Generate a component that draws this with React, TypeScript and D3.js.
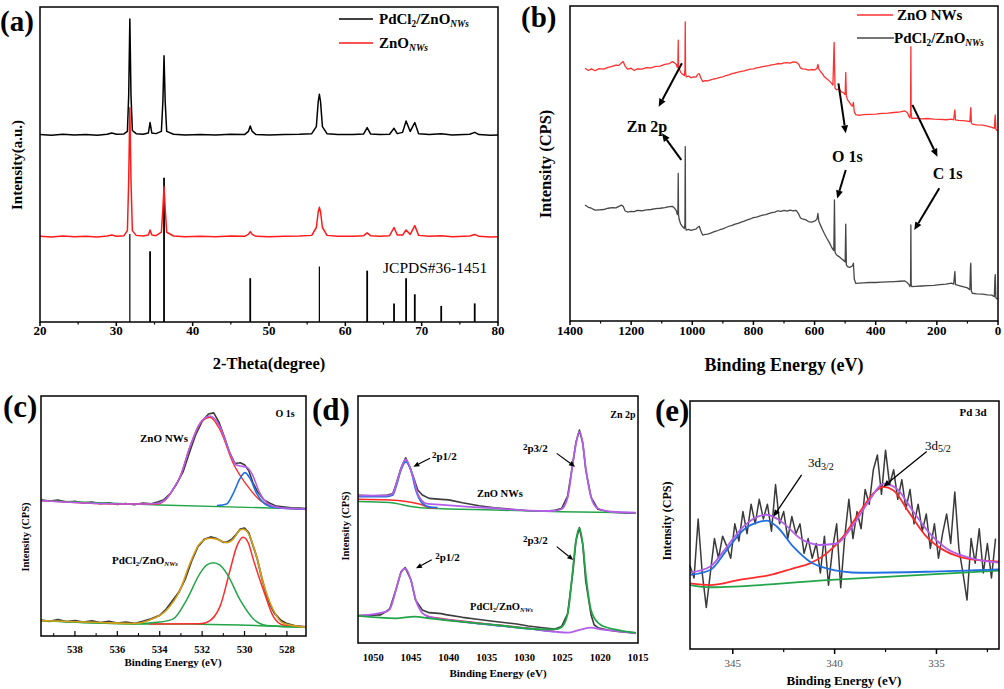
import React from 'react';
import * as d3 from 'd3';

type P = [number, number];
const FONT = "'Liberation Serif','Times New Roman',Times,serif";

// ---------- (a) XRD ----------
const xrdTicks = [20, 30, 40, 50, 60, 70, 80];
const xrdMinor = [25, 35, 45, 55, 65, 75];
const xrdPdCl2: P[] = [[20,59.5],[21.5,59.3],[23,59.6],[24.5,59.4],[26,59.5],[27.5,59.3],[28.8,59.6],[29.4,60.0],[30,59.6],[31,59.7],[31.45,60.5],[31.62,72],[31.77,96.2],[31.92,72],[32.1,60.8],[32.6,59.8],[33.5,59.6],[34.2,60],[34.42,63.3],[34.65,60],[35.2,59.8],[35.9,60.5],[36.1,70],[36.25,84.5],[36.4,70],[36.6,60.5],[37.5,59.6],[39,59.4],[41,59.5],[43,59.4],[45,59.6],[46.8,59.5],[47.3,60.5],[47.54,62.2],[47.8,60.5],[48.3,59.5],[50,59.4],[52,59.5],[54,59.6],[55.6,59.8],[56.2,62],[56.45,70],[56.6,72.3],[56.75,70],[57,62],[57.6,59.8],[59,59.5],[61,59.5],[62.4,59.7],[62.86,61.7],[63.3,59.7],[64.5,59.5],[65.8,59.6],[66.38,61.5],[66.8,59.8],[67.5,60.2],[67.96,63.8],[68.5,60.5],[69.1,63.3],[69.6,59.8],[71,59.5],[72.56,59.8],[74,59.4],[76.3,59.6],[76.95,60.2],[77.5,59.5],[79,59.3],[80,59.4]];
const xrdZnO: P[] = [[20,27.2],[21.5,27.0],[23,27.3],[24.5,27.1],[26,27.2],[27.5,27.0],[28.8,27.3],[29.4,27.6],[30,27.2],[31,27.4],[31.45,29],[31.62,45],[31.77,68],[31.92,45],[32.1,29],[32.6,27.5],[33.5,27.3],[34.2,27.6],[34.42,29.2],[34.65,27.6],[35.2,27.4],[35.9,28.5],[36.1,36],[36.25,43.0],[36.4,36],[36.6,28.5],[37.5,27.3],[39,27.1],[41,27.2],[43,27.1],[45,27.3],[46.8,27.2],[47.3,27.8],[47.54,28.7],[47.8,27.8],[48.3,27.2],[50,27.1],[52,27.2],[54,27.3],[55.6,27.5],[56.2,30],[56.45,35],[56.6,36.4],[56.75,35],[57,30],[57.6,27.5],[59,27.2],[61,27.2],[62.4,27.4],[62.86,28.3],[63.3,27.4],[64.5,27.2],[65.8,27.4],[66.38,30.0],[66.8,27.6],[67.5,27.6],[67.96,29.2],[68.5,27.8],[69.1,30.6],[69.6,27.5],[71,27.2],[72.56,27.4],[74,27.1],[76.3,27.3],[76.95,27.8],[77.5,27.2],[79,27.0],[80,27.1]];
const jcpdsPos = [31.77, 34.42, 36.25, 47.54, 56.6, 62.86, 66.38, 67.96, 69.1, 72.56, 76.95];
const jcpdsInt = [27.9, 22.5, 45.8, 13.9, 17.6, 16.3, 5.9, 13.9, 8.8, 5.1, 5.9];

// ---------- (b) XPS survey ----------
const surveyTicks = [1400, 1200, 1000, 800, 600, 400, 200, 0];
const surveyMinor = [1300, 1100, 900, 700, 500, 300, 100];
const surveyZnO: P[] = [[1351,80.3],[1340,79.6],[1330,80.1],[1318,79.5],[1305,80.2],[1290,80.0],[1275,80.6],[1262,80.9],[1250,81.3],[1240,81.2],[1232,82.0],[1226,82.4],[1220,81.0],[1212,80.0],[1200,80.3],[1190,79.6],[1180,80.1],[1165,80.0],[1150,80.5],[1135,80.4],[1120,80.9],[1105,81.0],[1090,81.5],[1075,81.8],[1065,82.4],[1058,82.0],[1052,81.5],[1049,80.5],[1047,82],[1046,89.2],[1045,81],[1043,80.2],[1038,79.0],[1032,78.4],[1026,78.0],[1024,80],[1023,95.0],[1022,79],[1020,77.6],[1012,77.8],[1004,77.3],[996,77.6],[988,77.5],[982,78.4],[977,78.6],[972,77.2],[966,76.1],[958,76.4],[950,76.3],[940,76.6],[930,76.9],[920,77.1],[910,77.4],[900,77.6],[890,78.0],[880,78.2],[870,78.6],[860,78.8],[850,79.1],[840,79.3],[830,79.5],[820,79.8],[810,80.0],[800,80.1],[790,80.4],[780,80.6],[770,80.8],[760,81.0],[750,81.1],[740,81.4],[730,81.5],[720,81.8],[710,81.7],[700,82.0],[690,82.1],[680,81.9],[670,82.3],[660,82.2],[652,81.6],[646,80.4],[640,80.1],[630,80.0],[620,79.7],[610,79.9],[598,79.8],[592,80.3],[589,81.5],[586,80.0],[580,79.2],[574,78.5],[568,77.6],[560,77.0],[552,76.3],[545,75.6],[540,75.0],[536,88.5],[533,74.0],[528,73.5],[520,73.8],[512,72.8],[505,72.5],[500,72.0],[498,79.0],[496,71.5],[492,70.3],[486,69.5],[480,68.6],[476,68.3],[473,69.5],[470,66.5],[465,65.6],[455,65.4],[440,65.6],[420,65.7],[400,65.8],[380,66.0],[360,66.1],[340,66.3],[320,66.5],[305,66.8],[296,66.2],[291,65.0],[288,64.6],[286,66],[285,87.1],[284,66],[282,64.4],[270,64.5],[250,64.3],[230,64.4],[210,64.2],[190,64.1],[170,64.0],[152,64.2],[145,64.0],[142,66.5],[141,67.1],[139,64.0],[130,63.8],[115,63.7],[100,63.6],[92,63.4],[90,66.5],[89,67.8],[87,63.0],[84,62.6],[70,62.4],[50,62.3],[35,62.0],[20,61.6],[12,61.3],[10,64.5],[9,65.5],[7,61.0],[4,60.7],[1,60.5]];
const surveyPdCl2: P[] = [[1351,37.0],[1340,36.3],[1330,36.0],[1318,35.4],[1305,35.5],[1290,35.6],[1275,36.0],[1262,36.2],[1250,36.1],[1240,36.6],[1232,37.0],[1226,36.6],[1220,35.2],[1212,34.8],[1200,35.0],[1190,34.9],[1180,35.3],[1165,35.2],[1150,35.5],[1135,35.6],[1120,35.9],[1105,36.0],[1090,36.2],[1075,36.5],[1065,36.6],[1058,36.0],[1052,35.2],[1049,34.0],[1047,35],[1046,47.0],[1045,34],[1043,32.5],[1038,31.0],[1032,30.2],[1026,29.6],[1024,31],[1023,55.5],[1022,30],[1020,29.1],[1012,29.3],[1004,29.0],[996,29.2],[988,29.4],[982,30.0],[977,30.3],[972,28.8],[966,27.5],[958,27.7],[950,27.8],[940,28.1],[930,28.5],[920,28.8],[910,29.2],[900,29.5],[890,29.9],[880,30.3],[870,30.6],[860,31.0],[850,31.2],[840,31.6],[830,31.9],[820,32.3],[810,32.6],[800,33.0],[790,33.2],[780,33.5],[770,33.8],[760,34.0],[750,34.3],[740,34.6],[730,34.8],[720,35.2],[710,35.0],[700,35.3],[690,35.1],[680,35.4],[670,35.2],[660,35.3],[652,34.2],[646,32.9],[640,32.6],[630,32.4],[620,31.8],[610,31.6],[598,32.0],[592,32.6],[589,34.4],[586,31.8],[580,30.5],[574,29.2],[568,28.0],[560,26.5],[552,25.2],[545,23.8],[540,23.0],[537,22.6],[535,38.6],[533,22.0],[528,21.2],[520,20.7],[512,20.0],[505,19.5],[500,19.0],[498,31.0],[496,18.0],[492,17.5],[486,17.3],[480,17.5],[476,17.8],[473,18.6],[470,13.5],[465,12.2],[455,12.3],[440,12.4],[420,12.5],[400,12.5],[380,12.6],[360,12.7],[340,12.8],[320,12.9],[305,13.0],[296,12.4],[291,11.8],[288,11.2],[286,12],[285,30.7],[284,12],[282,11.2],[270,11.3],[250,11.4],[230,11.5],[210,11.6],[190,11.8],[170,12.0],[152,12.3],[145,12.0],[142,15.0],[141,16.0],[139,11.8],[130,11.6],[115,11.2],[100,10.8],[92,10.2],[90,17.5],[89,18.6],[87,9.8],[84,9.1],[70,8.9],[50,8.8],[35,8.6],[20,8.5],[12,8.0],[10,14.0],[9,15.0],[7,7.6],[4,7.4],[1,7.2]];

// ---------- (c) O 1s ----------
const o1sTicks = [538, 536, 534, 532, 530, 528];
const o1sMinor = [539, 537, 535, 533, 531, 529];
const o1sZnORaw: P[] = [[539.6,56.9],[539.2,56.4],[538.8,56.8],[538.4,56.0],[538.0,56.3],[537.6,55.6],[537.2,56.0],[536.8,55.3],[536.4,55.7],[536.0,55.0],[535.6,55.4],[535.2,54.9],[534.8,55.6],[534.4,55.3],[534.1,56.0],[533.8,57.0],[533.5,59.5],[533.2,63.5],[532.9,68.5],[532.6,76.5],[532.3,84.0],[532.0,89.5],[531.7,92.5],[531.45,93.0],[531.2,89.0],[530.95,83.0],[530.7,76.5],[530.45,72.0],[530.2,72.3],[530.0,71.5],[529.8,69.0],[529.6,64.0],[529.4,60.5],[529.1,57.0],[528.8,55.5],[528.5,54.3],[528.2,54.0],[527.8,53.6],[527.4,53.5],[527.1,53.3]];
const o1sZnOEnv: P[] = [[539.6,56.6],[538.5,56.0],[537.5,55.6],[536.8,55.4],[535.5,55.2],[534.6,55.2],[534.14,55.4],[533.67,57.5],[533.36,61.5],[533.04,66.5],[532.57,79.0],[532.1,88.7],[531.63,91.7],[531.16,87.3],[530.68,76.2],[530.4,71.5],[530.1,70.8],[529.9,70.4],[529.66,67.9],[529.27,59.6],[528.8,54.8],[528.17,53.4],[527.1,53.1]];
const o1sZnOPeakA: P[] = [[539.6,56.6],[536,55.2],[534.14,55.2],[533.67,57.5],[533.36,61.5],[533.04,66.5],[532.57,79.0],[532.1,88.5],[531.63,91.2],[531.16,86.0],[530.53,72.0],[529.9,63.1],[529.27,56.8],[528.64,54.1],[528.17,53.5],[527.1,53.1]];
const o1sZnOPeakB: P[] = [[531.3,54.5],[530.84,55.2],[530.53,59.6],[530.21,65.8],[529.98,68.2],[529.74,65.8],[529.43,59.6],[528.96,54.8],[528.5,53.7],[527.1,53.1]];
const o1sZnOBg: P[] = [[539.6,56.6],[534,54.8],[527.1,53.1]];
const o1sPdRaw: P[] = [[539.6,7.0],[539.2,6.5],[538.8,7.2],[538.4,6.4],[538.0,6.8],[537.6,6.2],[537.2,6.7],[536.8,6.0],[536.4,6.5],[536.0,5.8],[535.6,6.2],[535.2,5.6],[534.8,6.5],[534.4,7.5],[534.0,9.0],[533.7,11.5],[533.4,15.0],[533.1,18.5],[532.8,24.0],[532.5,31.5],[532.2,37.5],[531.9,40.5],[531.6,41.5],[531.3,40.8],[531.0,39.3],[530.8,39.5],[530.6,40.5],[530.4,42.5],[530.2,44.8],[530.0,45.2],[529.8,43.2],[529.6,38.0],[529.4,32.5],[529.2,25.0],[529.0,18.5],[528.8,13.5],[528.6,10.0],[528.3,7.0],[528.0,5.5],[527.6,4.6],[527.1,4.2]];
const o1sPdEnv: P[] = [[539.6,6.8],[536.82,6.0],[535.25,5.6],[534.46,7.1],[533.67,11.2],[533.04,19.5],[532.57,30.6],[532.1,38.9],[531.63,41.0],[531.31,40.6],[530.84,39.1],[530.53,40.6],[530.21,44.4],[530.06,44.7],[529.82,43.0],[529.43,33.3],[529.11,22.3],[528.64,11.2],[528.17,5.7],[527.1,4.0]];
const o1sPdPeakA: P[] = [[539.6,6.8],[535.25,5.5],[533.99,6.2],[533.36,7.5],[532.73,15.4],[532.1,26.4],[531.79,29.8],[531.47,30.8],[531.16,29.8],[530.84,26.4],[530.21,15.4],[529.58,7.5],[528.96,4.8],[527.1,4.0]];
const o1sPdPeakB: P[] = [[534.5,5.4],[532.1,5.5],[531.79,6.0],[531.16,12.6],[530.68,27.8],[530.37,37.5],[530.06,41.4],[529.82,39.0],[529.58,32.0],[529.11,19.5],[528.64,8.5],[528.17,5.0],[527.1,4.2]];
const o1sPdBg: P[] = [[539.6,6.8],[535.3,5.4],[532.1,5.3],[527.1,4.0]];

// ---------- (d) Zn 2p ----------
const zn2pTicks = [1050, 1045, 1040, 1035, 1030, 1025, 1020, 1015];
const zn2pZnORaw: P[] = [[1052,59.8],[1050,59.6],[1048.3,59.8],[1047.4,60.6],[1047,64],[1046.3,71],[1045.7,75],[1045,70],[1044.6,66.5],[1044.1,62],[1043.5,60],[1042.6,58.6],[1041,58.2],[1040,58],[1038.2,56.8],[1036,55.6],[1034,54.8],[1031,54.0],[1029.5,53.6],[1027.3,53.4],[1026,53.8],[1025.1,54.5],[1024.3,59.5],[1023.6,73],[1023.2,81.3],[1022.74,86.2],[1022.3,81],[1021.9,70],[1021.2,59],[1020.3,54.2],[1018.6,53],[1016,52.6],[1015.3,52.7]];
const zn2pZnOEnv: P[] = [[1052,59.7],[1048.29,59.7],[1047.4,60.5],[1046.98,64.0],[1046.32,70.5],[1045.7,74.4],[1045.01,70.0],[1044.6,66.0],[1044.14,60.7],[1043.5,57.5],[1043.05,56.6],[1040.43,55.9],[1033.88,54.6],[1027.33,53.5],[1026,53.6],[1025.14,54.2],[1024.27,59.3],[1023.62,72.8],[1023.18,80.9],[1022.74,85.6],[1022.31,80.9],[1021.87,70.1],[1021.21,59.3],[1020.34,54.6],[1018.59,53.2],[1015.3,52.8]];
const zn2pZnOP12: P[] = [[1052,59.3],[1048.29,59.3],[1047.4,60.0],[1046.98,63.3],[1046.32,70.1],[1045.7,73.4],[1045.01,70.1],[1044.36,62.0],[1043.48,56.6],[1042.61,55.2],[1041.5,54.9]];
const zn2pZnOSat: P[] = [[1052,58.2],[1047.85,57.9],[1045.67,57.3],[1043.48,55.9],[1042.61,54.9],[1041.5,54.6]];
const zn2pZnOBg: P[] = [[1052,57.3],[1047.85,56.9],[1044.79,55.2],[1042.61,54.6],[1033.88,53.9],[1025.14,53.2],[1015.3,52.8]];
const zn2pPdRaw: P[] = [[1052,11.2],[1049,11.5],[1048.3,12.8],[1047.8,14],[1047,21.6],[1046.3,29],[1045.76,30.6],[1045,25.6],[1044.4,17.5],[1043.5,13.5],[1042.6,12.4],[1041,12],[1040.4,11.6],[1038.2,10.5],[1036,9.6],[1033.9,8.8],[1031,7.8],[1029.5,7.0],[1027.3,6.2],[1026,5.8],[1025.1,6.8],[1024.3,12],[1023.6,29],[1023.2,41.5],[1022.74,46.8],[1022.3,40],[1021.9,25],[1021.2,11.5],[1020.8,7.5],[1020.3,6.3],[1019,5.4],[1017.7,4.8],[1015.3,4.2]];
const zn2pPdEnv: P[] = [[1052,11.1],[1048.29,12.8],[1047.8,13.8],[1046.98,21.6],[1046.32,28.5],[1045.76,30.3],[1045.01,25.6],[1044.36,17.5],[1043.48,12.2],[1042.61,10.8],[1038.24,8.8],[1033.88,7.4],[1029.51,6.0],[1026.02,4.7],[1024.27,4.3],[1022.74,5.4],[1021.21,6.3],[1019.9,5.6],[1018,5.0],[1015.3,4.0]];
const zn2pPdSat1: P[] = [[1043,10.9],[1038,8.9],[1033.9,7.5],[1029.5,6.1],[1026,4.8]];
const zn2pPdSat2: P[] = [[1043,10.6],[1038,8.6],[1033.9,7.2],[1029.5,5.9],[1026,4.6]];
const zn2pPdP32: P[] = [[1052,11.1],[1047,10.1],[1044.5,10.8],[1042.6,10.1],[1033.88,7.4],[1027.3,5.6],[1026,5.6],[1025.1,6.5],[1024.27,12.2],[1023.62,29.6],[1023.18,41.8],[1022.74,46.5],[1022.31,40.4],[1021.87,27.0],[1021.21,13.5],[1020.34,8.5],[1019.9,7.4],[1017.72,5.4],[1015.3,4.2]];

// ---------- (e) Pd 3d ----------
const pd3dTicks = [345, 340, 335];
const pd3dMinor = [342.5, 337.5, 332.5];
const pd3dStart = 347.1;
const pd3dStep = 0.2;
const pd3dRaw = [33,28,52,30,16,30,44,36,45,41,36,50,43,55,46,58,50,60,52,58,47,66,50,55,44,53,46,50,38,44,36,42,30,45,25,40,50,24,45,60,44,55,48,64,58,72,78,62,80,66,72,60,68,56,64,50,58,47,54,40,50,36,46,54,42,63,40,30,19,44,34,48,30,42,28,44];
const pd3dEnv: P[] = [[347.09,30.1],[346.11,32.6],[345.29,40.7],[344.48,48.9],[343.33,53.7],[342.52,50.3],[341.70,44.1],[340.72,41.4],[339.90,42.0],[339.08,49.6],[338.27,59.8],[337.61,66.4],[336.96,64.4],[336.14,55.0],[335.33,46.1],[334.51,40.0],[333.53,36.6],[331.93,34.2]];
const pd3d52: P[] = [[347.09,25.8],[346.11,25.1],[344.8,27.0],[343.0,29.5],[342.03,31.9],[341.21,33.9],[340.39,38.0],[339.58,44.8],[338.76,54.9],[338.10,62.4],[337.61,65.1],[337.12,63.7],[336.31,54.2],[335.49,44.8],[334.67,39.4],[333.86,36.6],[333.04,35.3],[331.93,34.6]];
const pd3d32: P[] = [[347.09,29.2],[346.11,31.2],[345.29,39.4],[344.48,47.5],[343.66,50.9],[343.33,51.3],[342.84,48.9],[342.03,40.7],[341.21,34.6],[340.39,31.9],[338.76,30.1],[335.49,30.5],[331.93,31.5]];
const pd3dBg: P[] = [[347.09,25.1],[346.11,24.2],[340.39,27.1],[331.93,31.0]];

// ---------- colours ----------
const C_RAW = '#3c3c3c';
const C_PUR = '#b35ee8';
const C_RED = '#ff2b2b';
const C_BLU = '#1f6fe0';
const C_GRN = '#22a548';
const C_YEL = '#d6a11a';

function mkLine(sx: any, sy: any, curve: any = d3.curveLinear) {
  return d3.line<P>().x(d => sx(d[0])).y(d => sy(d[1])).curve(curve);
}

function Arrow({ x1, y1, x2, y2, head = 8, hw = 3.5, w = 1.6 }: any) {
  const a = Math.atan2(y2 - y1, x2 - x1);
  const bx = x2 - head * Math.cos(a), by = y2 - head * Math.sin(a);
  const px = -Math.sin(a) * hw, py = Math.cos(a) * hw;
  return (
    <g>
      <line x1={x1} y1={y1} x2={bx} y2={by} stroke="#000" strokeWidth={w} />
      <polygon points={`${x2},${y2} ${bx + px},${by + py} ${bx - px},${by - py}`} fill="#000" />
    </g>
  );
}

function PdLabel({ x, y, size, anchor = 'start' }: any) {
  const s = size * 0.62;
  return (
    <text x={x} y={y} fontSize={size} fontWeight="bold" textAnchor={anchor}>
      PdCl<tspan fontSize={s} dy={size * 0.22}>2</tspan>
      <tspan dy={-size * 0.22}>/ZnO</tspan>
      <tspan fontSize={s} fontStyle="italic" dy={size * 0.22}>NWs</tspan>
    </text>
  );
}

export default function App() {
  // ---- (a)
  const ax = d3.scaleLinear().domain([20, 80]).range([40, 498]);
  const ay = d3.scaleLinear().domain([0, 100]).range([322, 7]);
  const aLine = mkLine(ax, ay);
  // ---- (b)
  const bx = d3.scaleLinear().domain([1400, 0]).range([570, 998]);
  const by = d3.scaleLinear().domain([0, 100]).range([322, 6]);
  const bLine = mkLine(bx, by);
  // ---- (c)
  const cx = d3.scaleLinear().domain([539.6, 527.1]).range([41, 306]);
  const cy = d3.scaleLinear().domain([0, 100]).range([637, 396]);
  const cLine = mkLine(cx, cy);
  const cFit = mkLine(cx, cy, d3.curveMonotoneX);
  // ---- (d)
  const dx = d3.scaleLinear().domain([1052, 1015]).range([358, 638]);
  const dy = d3.scaleLinear().domain([0, 100]).range([643.3, 396]);
  const dLine = mkLine(dx, dy);
  const dFit = mkLine(dx, dy, d3.curveMonotoneX);
  // ---- (e)
  const ex = d3.scaleLinear().domain([347.1, 331.93]).range([690, 999]);
  const ey = d3.scaleLinear().domain([0, 100]).range([646.7, 401]);
  const eLine = mkLine(ex, ey);
  const eFit = mkLine(ex, ey, d3.curveMonotoneX);
  const pdRawPts: P[] = pd3dRaw.map((v, i) => [pd3dStart - i * pd3dStep, v]);

  const fit = (d: string | null, c: string, w = 1.6) => <path d={d || ''} fill="none" stroke={c} strokeWidth={w} strokeLinejoin="round" />;

  return (
    <svg width={1004} height={689} style={{ position: 'absolute', left: 0, top: 0, background: '#fff' }} fontFamily={FONT}>
      <rect x={0} y={0} width={1004} height={689} fill="#fff" />

      {/* ================= (a) ================= */}
      <g>
        {jcpdsPos.map((p, i) => (
          <line key={i} x1={ax(p)} x2={ax(p)} y1={ay(0)} y2={ay(jcpdsInt[i])} stroke="#000" strokeWidth={i === 0 || i === 4 ? 1.2 : 1.8} />
        ))}
        {fit(aLine(xrdPdCl2), '#000', 1.5)}
        {fit(aLine(xrdZnO), '#ff1a1a', 1.5)}
        <rect x={40} y={7} width={458} height={315} fill="none" stroke="#000" strokeWidth={1.5} />
        {xrdTicks.map(t => <line key={t} x1={ax(t)} x2={ax(t)} y1={322} y2={326} stroke="#000" strokeWidth={1.5} />)}
        {xrdMinor.map(t => <line key={t} x1={ax(t)} x2={ax(t)} y1={322} y2={324.5} stroke="#000" strokeWidth={1.2} />)}
        {xrdTicks.map(t => <text key={t} x={ax(t)} y={335} fontSize={13} fontWeight="bold" textAnchor="middle">{t}</text>)}
        <text x={269} y={369} fontSize={16.5} fontWeight="bold" textAnchor="middle">2-Theta(degree)</text>
        <text transform="translate(22,165) rotate(-90)" fontSize={15} fontWeight="bold" textAnchor="middle">Intensity(a.u.)</text>
        <text x={ax(64.94)} y={ay(15.6)} fontSize={15.5}>JCPDS#36-1451</text>
        <line x1={339} x2={373} y1={19} y2={19} stroke="#000" strokeWidth={1.5} />
        <PdLabel x={379} y={24} size={15} />
        <line x1={339} x2={373} y1={43} y2={43} stroke="#ff1a1a" strokeWidth={1.5} />
        <text x={379} y={48} fontSize={15} fontWeight="bold">ZnO<tspan fontSize={9.5} fontStyle="italic" dy={3.3}>NWs</tspan></text>
        <text x={0} y={31} fontSize={29} fontWeight="bold">(a)</text>
      </g>

      {/* ================= (b) ================= */}
      <g>
        {fit(bLine(surveyZnO), '#ff3030', 1.3)}
        {fit(bLine(surveyPdCl2), '#474747', 1.3)}
        <rect x={570} y={6} width={428} height={315} fill="none" stroke="#000" strokeWidth={1.5} />
        {surveyTicks.map(t => <line key={t} x1={bx(t)} x2={bx(t)} y1={321} y2={325} stroke="#000" strokeWidth={1.5} />)}
        {surveyMinor.map(t => <line key={t} x1={bx(t)} x2={bx(t)} y1={321} y2={323.5} stroke="#000" strokeWidth={1.2} />)}
        {surveyTicks.map(t => <text key={t} x={bx(t)} y={335} fontSize={13} fontWeight="bold" textAnchor="middle">{t}</text>)}
        <text x={784} y={371} fontSize={18} fontWeight="bold" textAnchor="middle">Binding Energy (eV)</text>
        <text transform="translate(551,164) rotate(-90)" fontSize={16.5} fontWeight="bold" textAnchor="middle">Intensity (CPS)</text>
        <line x1={857} x2={893} y1={15} y2={15} stroke="#ff3030" strokeWidth={1.5} />
        <text x={897} y={20} fontSize={15} fontWeight="bold">ZnO NWs</text>
        <line x1={857} x2={894} y1={38} y2={38} stroke="#474747" strokeWidth={1.5} />
        <PdLabel x={894} y={43} size={15} />
        <text x={bx(1148)} y={by(60)} fontSize={16} fontWeight="bold" textAnchor="middle">Zn 2p</text>
        <text x={bx(493)} y={by(50.5)} fontSize={16} fontWeight="bold" textAnchor="middle">O 1s</text>
        <text x={bx(165)} y={by(45.2)} fontSize={16} fontWeight="bold" textAnchor="middle">C 1s</text>
        <Arrow x1={bx(1034)} y1={by(81.9)} x2={bx(1110)} y2={by(68.1)} w={2} />
        <Arrow x1={bx(1036)} y1={by(51.3)} x2={bx(1099)} y2={by(59.7)} w={2} />
        <Arrow x1={bx(522)} y1={by(75.5)} x2={bx(498)} y2={by(59.7)} w={2} />
        <Arrow x1={bx(498)} y1={by(48.1)} x2={bx(526)} y2={by(39.1)} w={2} />
        <Arrow x1={bx(280)} y1={by(68.7)} x2={bx(198)} y2={by(52.3)} w={2} />
        <Arrow x1={bx(192)} y1={by(42.3)} x2={bx(274)} y2={by(29.1)} w={2} />
        <text x={521} y={27} fontSize={29} fontWeight="bold">(b)</text>
      </g>

      {/* ================= (c) ================= */}
      <g>
        {fit(cLine(o1sZnORaw), C_RAW, 1.6)}
        {fit(cFit(o1sZnOBg), C_GRN, 1.4)}
        {fit(cFit(o1sZnOPeakA), C_RED, 1.4)}
        {fit(cFit(o1sZnOPeakB), C_BLU, 1.6)}
        {fit(cFit(o1sZnOEnv), C_PUR, 1.6)}
        {fit(cLine(o1sPdRaw), C_RAW, 1.8)}
        {fit(cFit(o1sPdBg), C_GRN, 1.4)}
        {fit(cFit(o1sPdPeakB), C_RED, 1.5)}
        {fit(cFit(o1sPdPeakA), C_GRN, 1.5)}
        {fit(cFit(o1sPdEnv), C_YEL, 1.6)}
        <rect x={41} y={396} width={265} height={240} fill="none" stroke="#000" strokeWidth={1.5} />
        {o1sTicks.map(t => <line key={t} x1={cx(t)} x2={cx(t)} y1={636} y2={631} stroke="#000" strokeWidth={1.2} />)}
        {o1sMinor.map(t => <line key={t} x1={cx(t)} x2={cx(t)} y1={636} y2={633} stroke="#000" strokeWidth={1} />)}
        {o1sTicks.map(t => <text key={t} x={cx(t)} y={653} fontSize={10.5} fontWeight="bold" textAnchor="middle">{t}</text>)}
        <text x={173} y={666} fontSize={11} fontWeight="bold" textAnchor="middle">Binding Energy (eV)</text>
        <text transform="translate(29,537) rotate(-90)" fontSize={10.5} fontWeight="bold" textAnchor="middle">Intensity (CPS)</text>
        <text x={cx(528.09)} y={cy(91.3)} fontSize={10} fontWeight="bold" textAnchor="middle">O 1s</text>
        <text x={cx(534.93)} y={cy(80.9)} fontSize={11} fontWeight="bold">ZnO NWs</text>
        <PdLabel x={cx(536.25)} y={cy(30.3)} size={11} />
        <text x={3} y={417} fontSize={31} fontWeight="bold">(c)</text>
      </g>

      {/* ================= (d) ================= */}
      <g>
        {fit(dLine(zn2pZnORaw), C_RAW, 1.6)}
        {fit(dFit(zn2pZnOBg), C_GRN, 1.5)}
        {fit(dFit(zn2pZnOSat), C_RED, 1.5)}
        {fit(dFit(zn2pZnOP12), C_BLU, 1.8)}
        {fit(dFit(zn2pZnOEnv), C_PUR, 1.8)}
        {fit(dLine(zn2pPdRaw), C_RAW, 1.6)}
        {fit(dFit(zn2pPdSat1), C_RED, 1.4)}
        {fit(dFit(zn2pPdSat2), C_BLU, 1.4)}
        {fit(dFit(zn2pPdEnv), C_PUR, 1.8)}
        {fit(dFit(zn2pPdP32), C_GRN, 1.8)}
        <rect x={358} y={396} width={280} height={247} fill="none" stroke="#000" strokeWidth={1.5} />
        {zn2pTicks.map(t => <text key={t} x={dx(t)} y={660.5} fontSize={10.5} fontWeight="bold" textAnchor="middle">{t}</text>)}
        <text x={498} y={677} fontSize={11} fontWeight="bold" textAnchor="middle">Binding Energy (eV)</text>
        <text transform="translate(349,526) rotate(-90)" fontSize={10.5} fontWeight="bold" textAnchor="middle">Intensity (CPS)</text>
        <text x={dx(1016.98)} y={dy(91.1)} fontSize={10} fontWeight="bold" textAnchor="middle">Zn 2p</text>
        <text x={dx(1042.22)} y={dy(74.1)} fontSize={11} fontWeight="bold"><tspan fontSize={9} dy={-2}>2</tspan><tspan dy={2}>p1/2</tspan></text>
        <text x={dx(1030.2)} y={dy(77.4)} fontSize={11} fontWeight="bold"><tspan fontSize={9} dy={-2}>2</tspan><tspan dy={2}>p3/2</tspan></text>
        <text x={dx(1041.8)} y={dy(33.3)} fontSize={11} fontWeight="bold"><tspan fontSize={9} dy={-2}>2</tspan><tspan dy={2}>p1/2</tspan></text>
        <text x={dx(1030.2)} y={dy(40.2)} fontSize={11} fontWeight="bold"><tspan fontSize={9} dy={-2}>2</tspan><tspan dy={2}>p3/2</tspan></text>
        <Arrow x1={dx(1042.49)} y1={dy(74.8)} x2={dx(1044.69)} y2={dy(71.4)} head={6} hw={2.6} w={1.2} />
        <Arrow x1={dx(1025.74)} y1={dy(76.8)} x2={dx(1023.32)} y2={dy(71.4)} head={6} hw={2.6} w={1.2} />
        <Arrow x1={dx(1042.26)} y1={dy(33.8)} x2={dx(1044.34)} y2={dy(30.3)} head={6} hw={2.6} w={1.2} />
        <Arrow x1={dx(1025.74)} y1={dy(39.1)} x2={dx(1023.55)} y2={dy(33.7)} head={6} hw={2.6} w={1.2} />
        <text x={dx(1036.28)} y={dy(59.2)} fontSize={10.5} fontWeight="bold">ZnO NWs</text>
        <PdLabel x={dx(1037.2)} y={dy(13.5)} size={10.5} />
        <text x={312} y={420} fontSize={31} fontWeight="bold">(d)</text>
      </g>

      {/* ================= (e) ================= */}
      <g>
        {fit(eLine(pdRawPts), '#3a3a3a', 1.5)}
        {fit(eFit(pd3dBg), C_GRN, 1.8)}
        {fit(eFit(pd3d52), C_RED, 1.8)}
        {fit(eFit(pd3d32), C_BLU, 1.8)}
        {fit(eFit(pd3dEnv), C_PUR, 1.8)}
        <rect x={690} y={401} width={309} height={248} fill="none" stroke="#000" strokeWidth={1.5} />
        {pd3dTicks.map(t => <line key={t} x1={ex(t)} x2={ex(t)} y1={649} y2={654} stroke="#000" strokeWidth={1.5} />)}
        {pd3dMinor.map(t => <line key={t} x1={ex(t)} x2={ex(t)} y1={649} y2={652} stroke="#000" strokeWidth={1.2} />)}
        {pd3dTicks.map(t => <text key={t} x={ex(t)} y={667} fontSize={11} fill="#555" textAnchor="middle">{t}</text>)}
        <text x={844} y={685} fontSize={13} fontWeight="bold" textAnchor="middle">Binding Energy (eV)</text>
        <text transform="translate(671,521) rotate(-90)" fontSize={12} fontWeight="bold" textAnchor="middle">Intensity (CPS)</text>
        <text x={ex(333.2)} y={ey(93.9)} fontSize={11} fontWeight="bold" textAnchor="middle">Pd 3d</text>
        <text x={ex(341.31)} y={ey(73.1)} fontSize={13}>3d<tspan fontSize={10} dy={2.5}>3/2</tspan></text>
        <text x={ex(335.56)} y={ey(80.1)} fontSize={13}>3d<tspan fontSize={10} dy={2.5}>5/2</tspan></text>
        <Arrow x1={ex(341.62)} y1={ey(69.9)} x2={ex(343.01)} y2={ey(52.9)} head={7} hw={3} w={1.3} />
        <Arrow x1={ex(335.48)} y1={ey(79.4)} x2={ex(337.61)} y2={ey(65.1)} head={7} hw={3} w={1.3} />
        <text x={655} y={421} fontSize={31} fontWeight="bold">(e)</text>
      </g>
    </svg>
  );
}
